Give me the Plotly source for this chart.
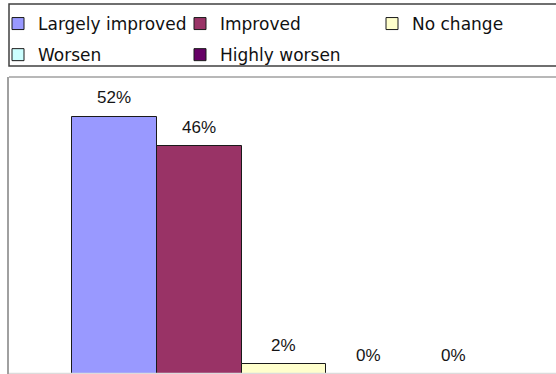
import plotly.graph_objects as go

categories = ["Largely improved", "Improved", "No change", "Worsen", "Highly worsen"]
values = [52, 46, 2, 0, 0]
labels = ["52%", "46%", "2%", "0%", "0%"]
colors = ["#9999FF", "#993366", "#FFFFCC", "#CCFFFF", "#660066"]
legend_of = ["legend", "legend2", "legend3", "legend", "legend2"]

W, H = 556, 374
L, T = 9, 77
pw = W - L
ph = H - T

def px2x(px):
    return (px - L) / pw

def py2y(py):
    return (H - py) / ph

fig = go.Figure()
for i, c in enumerate(categories):
    fig.add_trace(go.Bar(
        x=[c], y=[values[i]], name=c,
        marker=dict(color=colors[i], line=dict(color="#1a1a1a", width=1)),
        legend=legend_of[i], legendgroup=c, showlegend=True,
        hoverinfo="skip",
    ))

for i, c in enumerate(categories):
    fig.add_annotation(x=c, y=values[i], text=labels[i], showarrow=False,
                       yanchor="middle", yshift=19,
                       font=dict(family="Liberation Sans, Arial", size=17, color="#151515"))

leg_font = dict(family="DejaVu Sans", size=17, color="#111111")
def leg(xpx):
    return dict(xref="paper", yref="container", x=px2x(xpx), y=1 - 6 / H,
                xanchor="left", yanchor="top", orientation="v",
                font=leg_font, bgcolor="rgba(0,0,0,0)", borderwidth=0,
                tracegroupgap=6, itemclick=False)

fig.update_layout(
    width=W, height=H,
    margin=dict(l=L, r=0, t=T, b=0, pad=0, autoexpand=False),
    paper_bgcolor="white", plot_bgcolor="white",
    barmode="overlay", bargap=0,
    showlegend=True,
    legend=leg(-2), legend2=leg(180), legend3=leg(372),
    xaxis=dict(type="category", categoryorder="array", categoryarray=categories,
               range=[-1.243, 5.208], showticklabels=False, showgrid=False,
               zeroline=False, showline=False, fixedrange=True),
    yaxis=dict(range=[0, 60], showticklabels=False, showgrid=False, zeroline=False,
               showline=True, linecolor="#a0a0a0", linewidth=1.5, fixedrange=True),
    shapes=[
        dict(type="rect", xref="paper", yref="paper",
             x0=px2x(9), x1=px2x(570), y0=py2y(66), y1=py2y(4),
             line=dict(color="#404040", width=1.5), fillcolor="rgba(0,0,0,0)", layer="above"),
        dict(type="line", xref="paper", yref="paper",
             x0=0, x1=px2x(570), y0=1, y1=1,
             line=dict(color="#a0a0a0", width=1.5), layer="above"),
        dict(type="line", xref="paper", yref="paper",
             x0=0, x1=px2x(570), y0=0, y1=0,
             line=dict(color="#dcdcdc", width=2.5), layer="above"),
    ],
)

fig.write_html("out.html", config={"displayModeBar": False})
